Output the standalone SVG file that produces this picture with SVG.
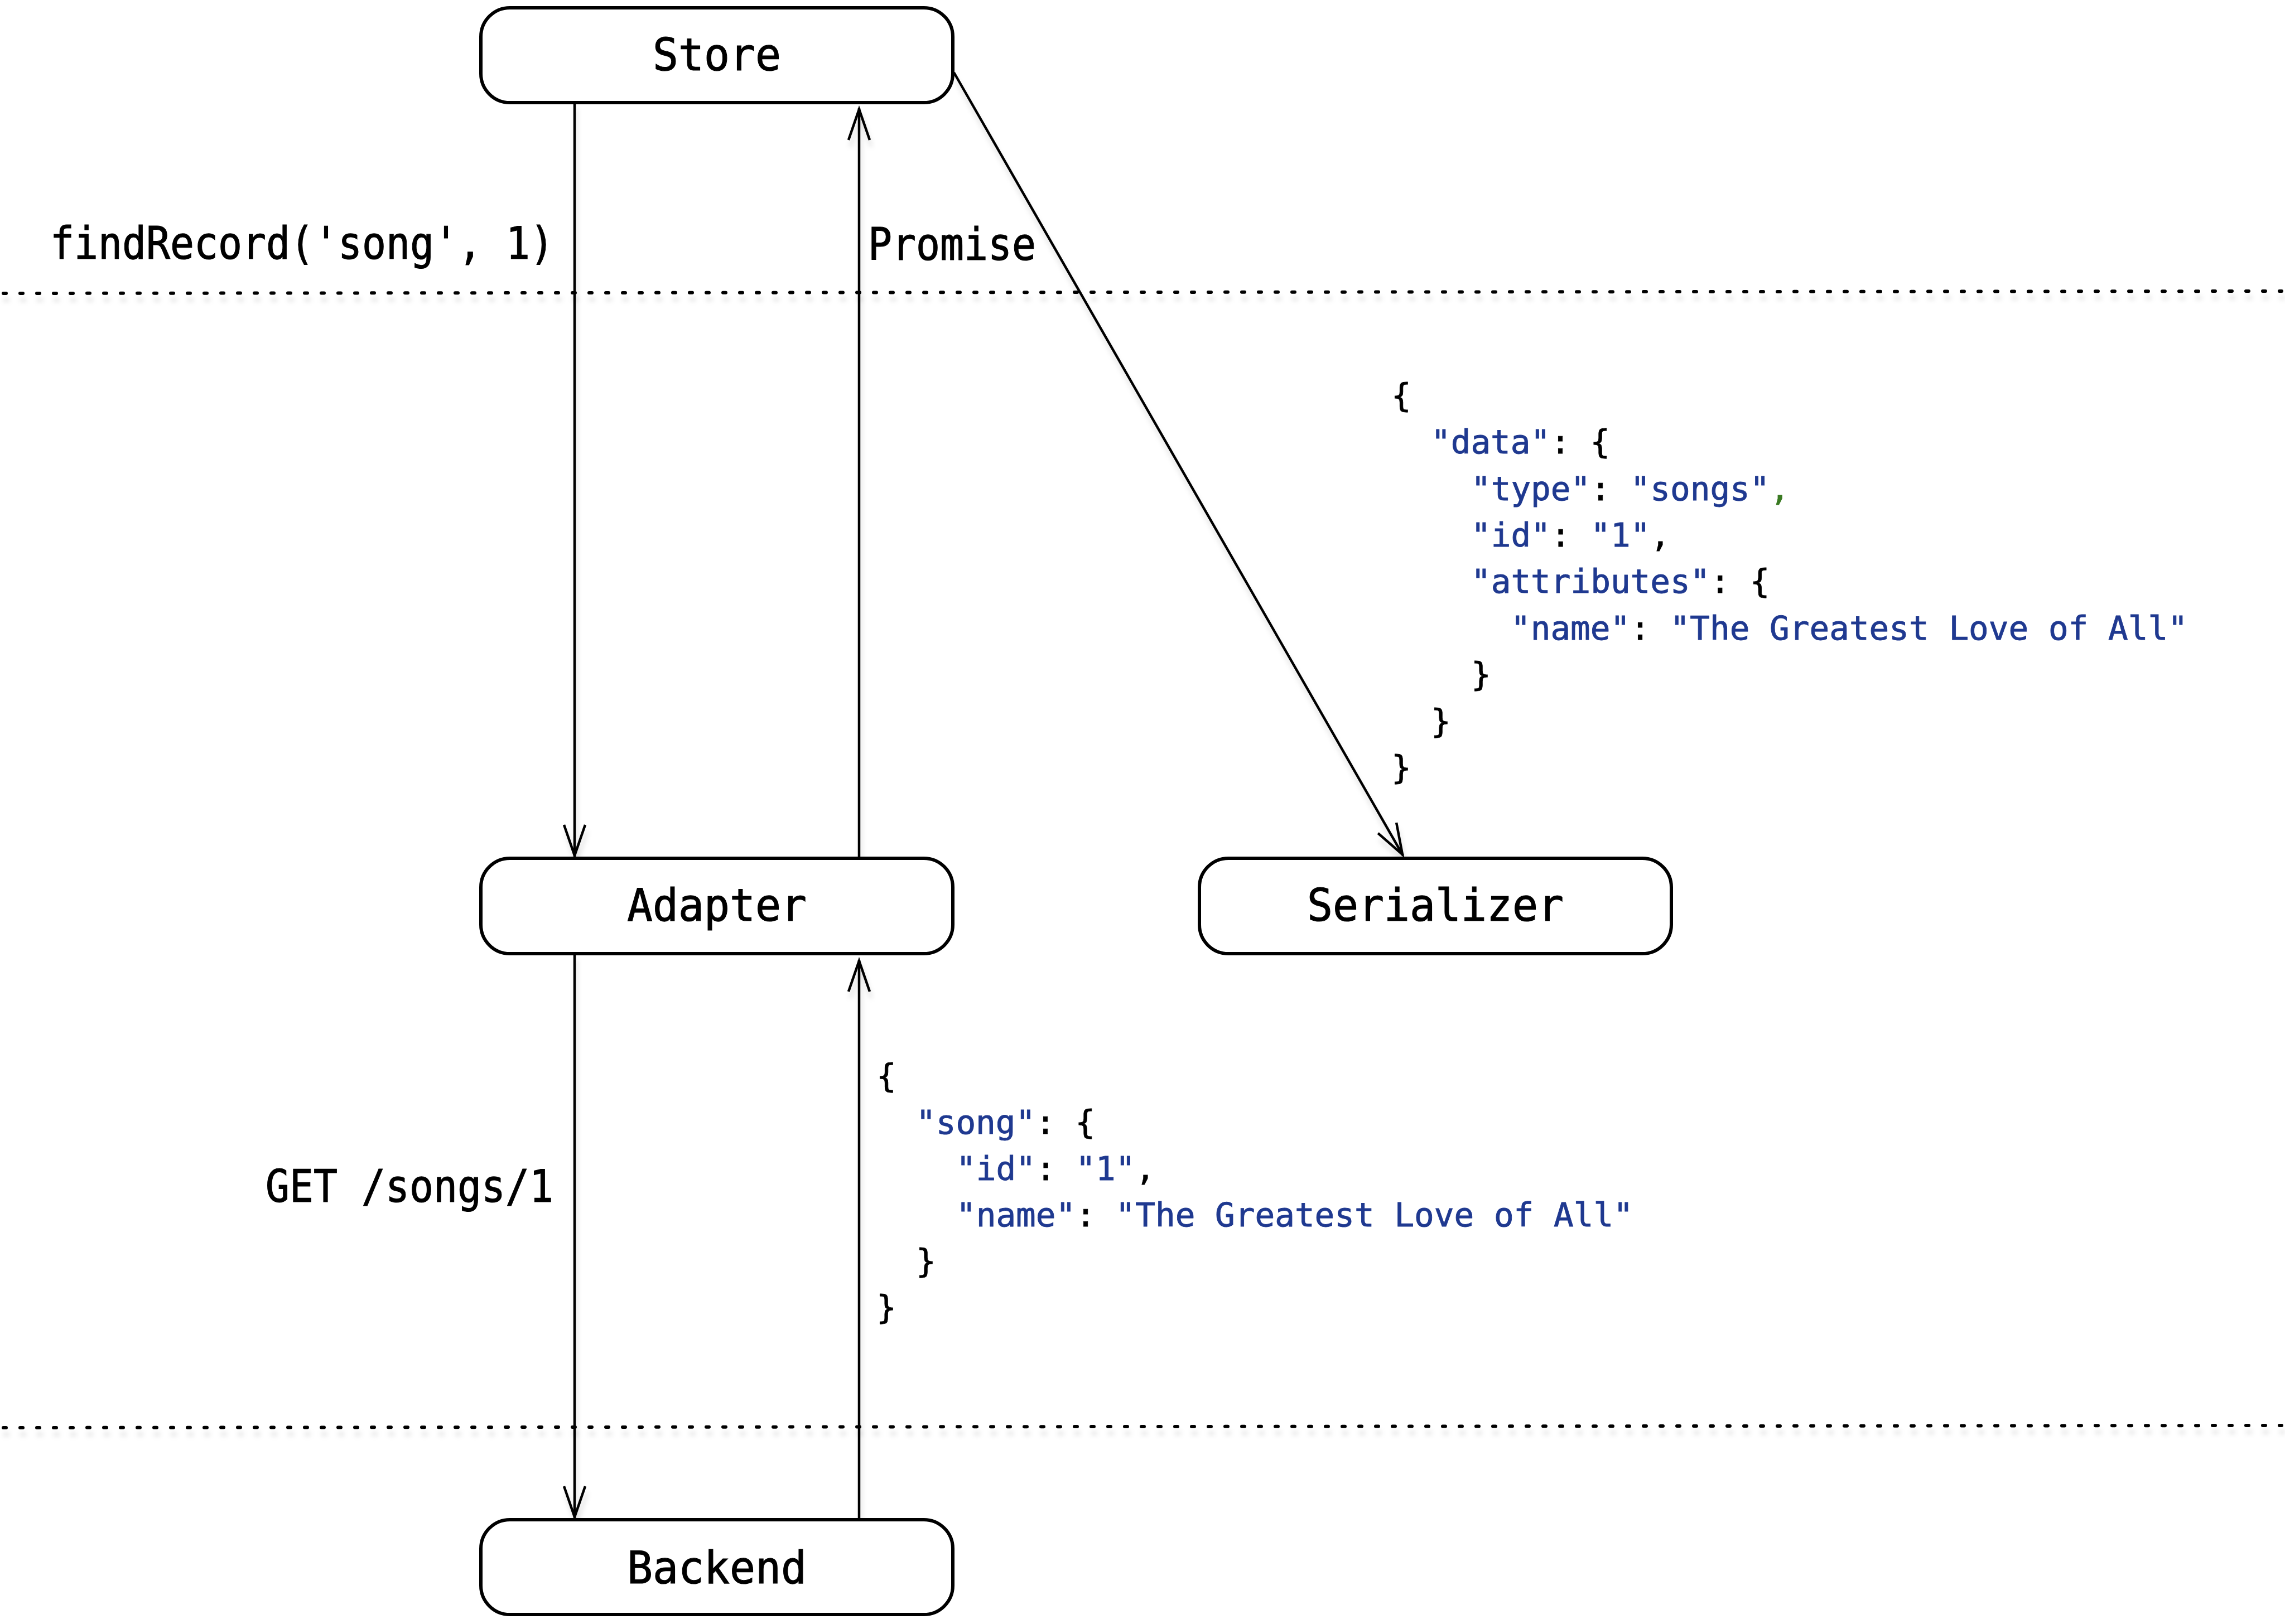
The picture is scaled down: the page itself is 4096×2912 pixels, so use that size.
<svg xmlns="http://www.w3.org/2000/svg" width="4096" height="2912" viewBox="0 0 4096 2912">
<style>
.node rect{fill:#ffffff;stroke:#000000;stroke-width:6}
.lbl{font-family:"DejaVu Sans Mono","Liberation Mono",monospace;font-size:81px;fill:#000000;stroke:#000000;stroke-width:1.2;text-anchor:middle}
.elbl{font-family:"DejaVu Sans Mono","Liberation Mono",monospace;font-size:81px;fill:#000000;stroke:#000000;stroke-width:1.2}
.json{font-family:"DejaVu Sans Mono","Liberation Mono",monospace;font-size:59.3px}
.k{fill:#000000;stroke:#000000;stroke-width:0.9}
.s{fill:#1f3990;stroke:#1f3990;stroke-width:0.9}
.g{fill:#3a7a22;stroke:#3a7a22;stroke-width:0.9}
.edge{fill:none;stroke:#000000;stroke-width:4.5}
.sep{fill:none;stroke:#000000;stroke-width:6;stroke-linecap:round;stroke-dasharray:5 25}
</style>
<defs>
<filter id="sh" x="-5%" y="-5%" width="110%" height="115%">
<feDropShadow dx="3" dy="12" stdDeviation="4" flood-color="#000000" flood-opacity="0.13"/>
</filter>
<marker id="arr" markerUnits="userSpaceOnUse" markerWidth="80" markerHeight="60" viewBox="-70 -30 80 60" refX="2" refY="0" orient="auto">
<path d="M-55,-19 L0,0 L-55,19" fill="none" stroke="#000000" stroke-width="4.5" stroke-linejoin="miter"/>
</marker>
</defs>
<rect x="0" y="0" width="4096" height="2912" fill="#ffffff"/>
<g id="separators" filter="url(#sh)">
<line class="sep" x1="6" y1="526" x2="4090" y2="522"/>
<line class="sep" x1="6" y1="2560" x2="4090" y2="2556"/>
</g>
<g id="connectors" filter="url(#sh)">
<line class="edge" x1="1030" y1="184" x2="1030" y2="1536" marker-end="url(#arr)"/>
<line class="edge" x1="1540" y1="1539" x2="1540" y2="194" marker-end="url(#arr)"/>
<line class="edge" x1="1710" y1="130" x2="2515" y2="1534" marker-end="url(#arr)"/>
<line class="edge" x1="1030" y1="1710" x2="1030" y2="2722" marker-end="url(#arr)"/>
<line class="edge" x1="1540" y1="2725" x2="1540" y2="1721" marker-end="url(#arr)"/>
</g>
<g id="node-store" class="node">
<rect x="862" y="14" width="846" height="170" rx="52" ry="52"/>
<text class="lbl" x="1285" y="126" textLength="230" lengthAdjust="spacingAndGlyphs">Store</text>
</g>
<g id="node-adapter" class="node">
<rect x="862" y="1539" width="846" height="171" rx="52" ry="52"/>
<text class="lbl" x="1285" y="1651" textLength="322" lengthAdjust="spacingAndGlyphs">Adapter</text>
</g>
<g id="node-serializer" class="node">
<rect x="2150" y="1539" width="846" height="171" rx="52" ry="52"/>
<text class="lbl" x="2573" y="1651" textLength="460" lengthAdjust="spacingAndGlyphs">Serializer</text>
</g>
<g id="node-backend" class="node">
<rect x="862" y="2725" width="846" height="170" rx="52" ry="52"/>
<text class="lbl" x="1285" y="2839" textLength="322" lengthAdjust="spacingAndGlyphs">Backend</text>
</g>
<g id="edge-labels">
<text class="elbl" x="90" y="464" textLength="903" lengthAdjust="spacingAndGlyphs">findRecord('song', 1)</text>
<text class="elbl" x="1556" y="466" textLength="301" lengthAdjust="spacingAndGlyphs">Promise</text>
<text class="elbl" x="476" y="2155" textLength="516" lengthAdjust="spacingAndGlyphs">GET /songs/1</text>
</g>
<g id="json-serializer" class="json">
<text x="2494" y="730"><tspan class="k">{</tspan></text>
<text x="2565" y="813"><tspan class="s">"data"</tspan><tspan class="k">: {</tspan></text>
<text x="2637" y="897"><tspan class="s">"type"</tspan><tspan class="k">: </tspan><tspan class="s">"songs"</tspan><tspan class="g">,</tspan></text>
<text x="2637" y="980"><tspan class="s">"id"</tspan><tspan class="k">: </tspan><tspan class="s">"1"</tspan><tspan class="k">,</tspan></text>
<text x="2637" y="1063"><tspan class="s">"attributes"</tspan><tspan class="k">: {</tspan></text>
<text x="2708" y="1147"><tspan class="s">"name"</tspan><tspan class="k">: </tspan><tspan class="s">"The Greatest Love of All"</tspan></text>
<text x="2637" y="1230"><tspan class="k">}</tspan></text>
<text x="2565" y="1314"><tspan class="k">}</tspan></text>
<text x="2494" y="1397"><tspan class="k">}</tspan></text>
</g>
<g id="json-backend" class="json">
<text x="1571" y="1950"><tspan class="k">{</tspan></text>
<text x="1642" y="2033"><tspan class="s">"song"</tspan><tspan class="k">: {</tspan></text>
<text x="1714" y="2116"><tspan class="s">"id"</tspan><tspan class="k">: </tspan><tspan class="s">"1"</tspan><tspan class="k">,</tspan></text>
<text x="1714" y="2199"><tspan class="s">"name"</tspan><tspan class="k">: </tspan><tspan class="s">"The Greatest Love of All"</tspan></text>
<text x="1642" y="2282"><tspan class="k">}</tspan></text>
<text x="1571" y="2365"><tspan class="k">}</tspan></text>
</g>
</svg>
